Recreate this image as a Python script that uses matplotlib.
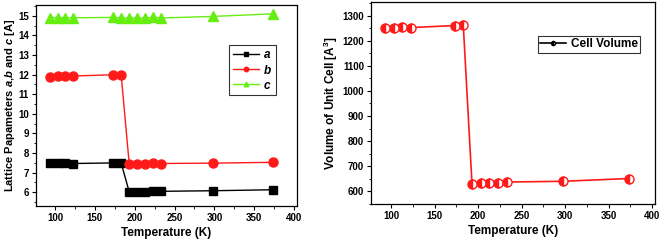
import matplotlib
matplotlib.use('Agg')
import matplotlib.pyplot as plt
from matplotlib.ticker import MultipleLocator

plt.rcParams['font.family'] = 'Liberation Sans'
plt.rcParams['font.weight'] = 'bold'
plt.rcParams['mathtext.fontset'] = 'custom'
plt.rcParams['mathtext.it'] = 'Liberation Sans:italic:bold'
plt.rcParams['mathtext.rm'] = 'Liberation Sans:bold'

temps = [93, 103, 113, 123, 173, 183, 193, 203, 213, 223, 233, 298, 373]
a_vals = [7.48, 7.48, 7.47, 7.46, 7.49, 7.47, 6.02, 6.03, 6.03, 6.04, 6.04, 6.07, 6.12]
b_vals = [11.90, 11.91, 11.92, 11.93, 11.99, 11.96, 7.46, 7.46, 7.46, 7.47, 7.46, 7.48, 7.52]
c_vals = [14.90, 14.90, 14.90, 14.90, 14.92, 14.88, 14.89, 14.88, 14.89, 14.92, 14.89, 14.97, 15.10]
volume = [1250, 1250, 1253, 1252, 1260, 1262, 631, 633, 634, 633, 637, 640, 651]

fig = plt.figure(figsize=(6.63, 2.41), dpi=100)
ax1 = fig.add_axes([0.0543, 0.146, 0.394, 0.833])
ax2 = fig.add_axes([0.5596, 0.154, 0.428, 0.839])

ax1.plot(temps, a_vals, '-s', color='black', ms=6, lw=1, label='$a$')
ax1.plot(temps, b_vals, '-o', color='#ff1a1a', ms=6.5, lw=1, label='$b$')
ax1.plot(temps, c_vals, '-^', color='#66ee11', ms=6.5, lw=1, label='$c$')
ax1.set_xlim(76, 404)
ax1.set_ylim(5.3, 15.55)
ax1.xaxis.set_major_locator(MultipleLocator(50))
ax1.xaxis.set_minor_locator(MultipleLocator(25))
ax1.yaxis.set_major_locator(MultipleLocator(1))
ax1.yaxis.set_minor_locator(MultipleLocator(0.5))
ax1.set_xlabel('Temperature (K)', fontsize=8.5, fontweight='bold', labelpad=3)
ax1.set_ylabel('Lattice Papameters $a$,$b$ and $c$ [A]', fontsize=8, fontweight='bold', labelpad=1)
leg1 = ax1.legend(loc='upper right', bbox_to_anchor=(0.94, 0.83), fontsize=8.5, frameon=True,
                  fancybox=False, edgecolor='black', handlelength=2.2, markerscale=0.5,
                  borderpad=0.3, labelspacing=0.25, handletextpad=0.4)
leg1.get_frame().set_linewidth(0.8)

ax2.plot(temps, volume, '-o', color='#ff1a1a', ms=6.5, lw=1.2, fillstyle='left',
         markerfacecoloralt='white', markeredgecolor='#ff1a1a', label='Cell Volume')
ax2.set_xlim(77, 403)
ax2.set_ylim(550, 1355)
ax2.xaxis.set_major_locator(MultipleLocator(50))
ax2.xaxis.set_minor_locator(MultipleLocator(25))
ax2.yaxis.set_major_locator(MultipleLocator(100))
ax2.yaxis.set_minor_locator(MultipleLocator(50))
ax2.set_xlabel('Temperature (K)', fontsize=8.5, fontweight='bold', labelpad=3)
ax2.set_ylabel('Volume of Unit Cell [A$^3$]', fontsize=8.5, fontweight='bold', labelpad=2)
leg2 = ax2.legend(loc='upper right', bbox_to_anchor=(0.97, 0.86), fontsize=8.5, frameon=True,
                  fancybox=False, edgecolor='black', handlelength=2.2, markerscale=0.45,
                  borderpad=0.2, handletextpad=0.4)
leg2.get_frame().set_linewidth(0.8)
for lh in leg2.get_lines():
    lh.set_color('black')
    lh.set_markeredgecolor('black')

for ax in (ax1, ax2):
    ax.tick_params(which='both', direction='out', labelsize=7, top=False, right=False, pad=2)
    ax.tick_params(which='major', length=3, width=0.8)
    ax.tick_params(which='minor', length=1.8, width=0.6)
    for lab in ax.get_xticklabels() + ax.get_yticklabels():
        lab.set_fontweight('bold')
    for sp in ax.spines.values():
        sp.set_linewidth(0.9)

fig.savefig('out.png', dpi=100)
